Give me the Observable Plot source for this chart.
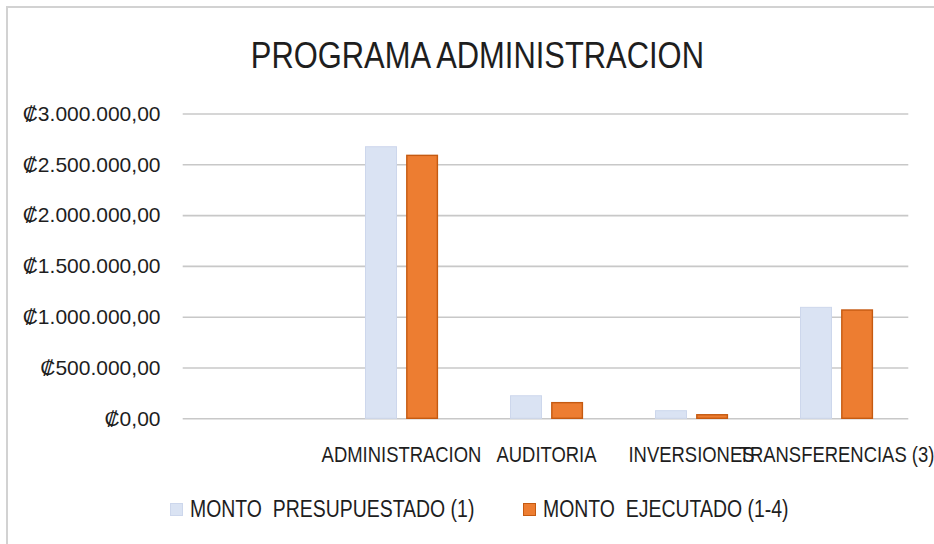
<!DOCTYPE html>
<html>
<head>
<meta charset="utf-8">
<script src="https://cdn.jsdelivr.net/npm/d3@7"></script>
<script src="https://cdn.jsdelivr.net/npm/@observablehq/plot@0.6"></script>
<style>
  html, body { margin: 0; padding: 0; background: #fff; overflow: hidden; }
  #wrap { position: relative; width: 934px; height: 544px; overflow: hidden; }
  #border { position: absolute; left: 6px; top: 6px; width: 960px; height: 580px; border: 2px solid #d2d2d2; box-sizing: border-box; }
  #title { position: relative; margin: 0 0 0 7px; width: 941px; padding-top: 34px; height: 44px; line-height: 44px; font-size: 37px; text-align: center; color: #1e1e1e; font-family: "Liberation Sans", Arial, sans-serif; white-space: nowrap; }
  #title span { display: inline-block; transform: scaleX(0.835); transform-origin: 50% 50%; }
  #chart { position: relative; height: 400px; }
  #chart svg { display: block; }
  #legend { position: relative; height: 66px; font-family: "Liberation Sans", Arial, sans-serif; font-size: 23px; color: #1e1e1e; }
  #legend .sw { position: absolute; top: 25px; width: 13px; height: 13px; box-sizing: border-box; }
  #legend .lb { position: absolute; top: 20px; line-height: 23px; white-space: pre; transform: scaleX(0.845); transform-origin: 0 50%; }
</style>
</head>
<body>
<div id="wrap">
  <div id="border"></div>
  <div id="title"><span></span></div>
  <div id="chart"></div>
  <div id="legend"></div>
</div>
<script>
// ---- data ----
const titleText = "PROGRAMA ADMINISTRACION";
const categories = ["", "ADMINISTRACION", "AUDITORIA", "INVERSIONES", "TRANSFERENCIAS (3)"];
const seriesNames = ["MONTO  PRESUPUESTADO (1)", "MONTO  EJECUTADO (1-4)"];
const montoPresupuestado = [null, 2673000, 222000, 75000, 1092000];
const montoEjecutado = [null, 2588000, 154000, 35000, 1066000];
const yTicks = [0, 500000, 1000000, 1500000, 2000000, 2500000, 3000000];
const seriesFill = ["#dae3f3", "#ed7d31"];
const seriesStroke = ["#cdd7ec", "#c55a11"];

// ---- build ----
const rows = [];
categories.forEach((c, i) => {
  if (montoPresupuestado[i] != null) rows.push({categoria: c, serie: seriesNames[0], valor: montoPresupuestado[i]});
  if (montoEjecutado[i] != null) rows.push({categoria: c, serie: seriesNames[1], valor: montoEjecutado[i]});
});

const locale = d3.formatLocale({decimal: ",", thousands: ".", grouping: [3], currency: ["\u20A1", ""]});
const fmt = locale.format("$,.2f");

document.querySelector("#title span").textContent = titleText;

const plot = Plot.plot({
  width: 934,
  height: 400,
  marginTop: 35.5,
  marginBottom: 59.7,
  marginLeft: 182.7,
  marginRight: 25.7,
  style: {background: "transparent", color: "#1e1e1e"},
  x: {type: "band", domain: categories, paddingInner: 0.49, paddingOuter: 0.245, label: null},
  y: {domain: [0, 3000000], label: null},
  marks: [
    Plot.gridY(yTicks, {stroke: "#c8c8c8", strokeOpacity: 1, strokeWidth: 1.6}),
    Plot.barY(rows.filter(d => d.serie === seriesNames[0]), {
      x: "categoria", y: "valor", fill: seriesFill[0], stroke: seriesStroke[0], strokeWidth: 1,
      insetLeft: 1.5, insetRight: 41.5
    }),
    Plot.barY(rows.filter(d => d.serie === seriesNames[1]), {
      x: "categoria", y: "valor", fill: seriesFill[1], stroke: seriesStroke[1], strokeWidth: 1.4,
      insetLeft: 42.8, insetRight: 0.6
    }),
    Plot.axisX({tickSize: 0, tickPadding: 27.4, label: null, fontSize: 22.5, fontFamily: '"Liberation Sans", Arial, sans-serif', fill: "#1e1e1e"}),
    Plot.axisY({ticks: yTicks, tickSize: 0, tickPadding: 22.7, tickFormat: fmt, label: null, fontSize: 21, fontFamily: '"Liberation Sans", Arial, sans-serif', fill: "#1e1e1e"})
  ]
});
document.getElementById("chart").appendChild(plot);

// condense the category labels horizontally (narrow-font look)
d3.select(plot).selectAll('g[aria-label="x-axis tick label"] text').each(function() {
  const t = this.getAttribute("transform") || "";
  this.setAttribute("transform", t + " scale(0.82,1)");
});

// legend
const legend = document.getElementById("legend");
const legendPos = [[170, 190], [523, 543]];
seriesNames.forEach((name, i) => {
  const sw = document.createElement("div");
  sw.className = "sw";
  sw.style.left = legendPos[i][0] + "px";
  sw.style.background = seriesFill[i];
  sw.style.border = "1px solid " + seriesStroke[i];
  legend.appendChild(sw);
  const lb = document.createElement("div");
  lb.className = "lb";
  lb.style.left = legendPos[i][1] + "px";
  lb.textContent = name;
  legend.appendChild(lb);
});
</script>
</body>
</html>
